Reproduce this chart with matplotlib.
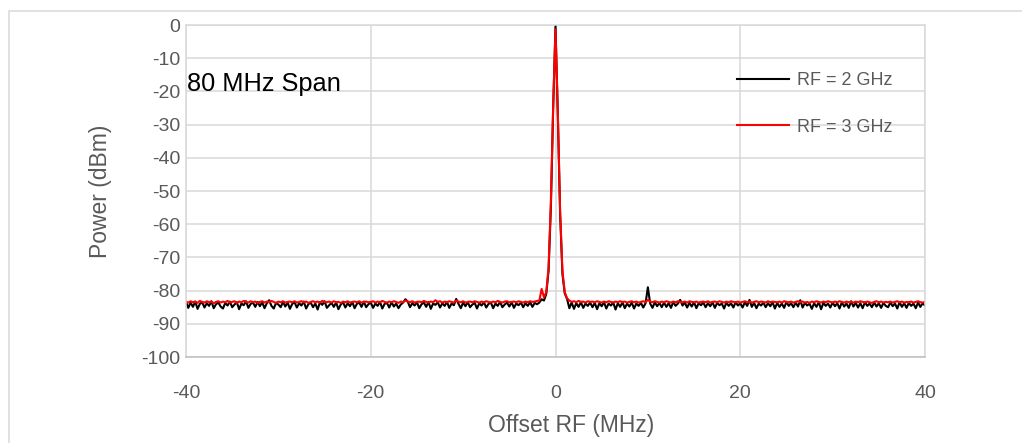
import numpy as np
import matplotlib.pyplot as plt
from matplotlib.patches import Rectangle

# spectrum trace, 0.25 MHz steps from -40 to +40 MHz (321 points)
freq_mhz = np.linspace(-40, 40, 321)

rf2_dbm = [
    -83.4, -85.2, -83.6, -84.9, -83.3, -85.5, -84.0, -83.5, -85.1, -83.8, -84.6, -83.2, -85.3, -84.1, -83.6, -84.8,
    -85.4, -83.7, -84.5, -83.3, -85.0, -84.2, -83.5, -85.6, -83.9, -84.4, -83.2, -85.2, -84.0, -83.6, -84.9, -83.4,
    -84.7, -83.5, -85.3, -83.8, -82.9, -84.6, -85.4, -83.7, -84.2, -85.0, -83.4, -84.8, -83.6, -85.5, -84.0, -83.5,
    -85.1, -83.8, -84.5, -83.3, -85.4, -84.1, -83.6, -85.0, -83.9, -85.7, -83.5, -84.3, -83.2, -85.2, -84.4, -83.7,
    -84.9, -83.6, -85.6, -84.2, -83.5, -85.1, -83.8, -84.7, -83.4, -85.3, -84.0, -83.6, -84.9, -83.3, -85.0, -84.1,
    -83.6, -85.2, -83.9, -84.6, -83.4, -85.4, -84.0, -83.7, -85.1, -83.5, -84.8, -83.9, -85.3, -84.2, -83.6, -82.6,
    -83.3, -85.0, -83.8, -84.5, -83.5, -85.3, -84.1, -83.6, -84.9, -83.4, -85.5, -83.9, -84.3, -83.5, -85.1, -83.8,
    -84.6, -83.4, -85.2, -83.9, -84.4, -82.5, -84.0, -85.3, -83.6, -84.7, -83.5, -85.0, -84.2, -83.7, -85.4, -83.8,
    -84.5, -83.5, -85.1, -84.0, -83.6, -85.3, -83.9, -84.6, -83.4, -85.0, -84.2, -83.6, -84.8, -83.5, -85.2, -83.9,
    -84.4, -83.6, -85.0, -83.8, -84.6, -83.5, -84.9, -83.7, -84.1, -83.6, -82.6, -83.0, -81.0, -74.0, -55.0, -25.0,
    -0.2, -27.0, -57.0, -75.0, -80.8, -82.5, -85.3, -83.6, -85.5, -83.8, -84.9, -83.5, -85.2, -83.9, -84.6, -83.6,
    -85.0, -83.7, -85.6, -83.8, -84.7, -83.5, -85.4, -83.9, -84.5, -83.6, -85.7, -83.8, -84.9, -83.5, -85.3, -83.9,
    -84.8, -83.6, -85.4, -83.9, -84.6, -83.7, -85.1, -83.8, -79.0, -83.9, -85.2, -83.5, -84.7, -83.7, -85.0, -83.6,
    -84.9, -83.8, -85.2, -83.4, -84.6, -83.9, -82.8, -84.5, -83.6, -85.1, -83.7, -84.8, -83.5, -85.3, -83.8, -84.4,
    -83.6, -85.0, -83.8, -84.7, -83.5, -85.2, -83.7, -84.4, -83.9, -85.4, -83.6, -84.6, -83.8, -85.1, -83.5, -84.5,
    -83.8, -85.1, -83.5, -84.6, -82.8, -84.9, -83.7, -85.3, -83.9, -84.5, -83.6, -85.0, -83.8, -84.7, -83.5, -85.4,
    -83.7, -84.9, -83.9, -85.2, -83.4, -84.6, -83.8, -85.0, -83.6, -84.8, -82.9, -85.1, -83.7, -84.5, -83.9, -85.5,
    -83.8, -84.9, -83.5, -85.6, -83.7, -84.6, -83.9, -85.1, -83.6, -84.7, -83.8, -85.4, -83.5, -84.8, -83.9, -85.2,
    -83.2, -84.8, -83.7, -85.1, -83.8, -85.3, -83.5, -84.6, -83.9, -85.0, -83.6, -84.8, -83.8, -85.2, -83.7, -84.6,
    -85.0, -83.6, -84.7, -83.9, -85.4, -83.5, -84.9, -83.8, -85.2, -83.7, -84.6, -83.9, -85.3, -83.6, -84.9, -83.8,
    -84.5,
]

rf3_dbm = [
    -83.4, -83.6, -83.2, -83.5, -83.3, -83.7, -83.1, -83.4, -83.6, -83.2, -83.5, -83.3, -83.8, -83.4, -83.2, -83.6,
    -83.3, -83.5, -83.1, -83.6, -83.4, -83.2, -83.7, -83.3, -83.5, -83.1, -83.4, -83.6, -83.2, -83.5, -83.3, -83.7,
    -83.4, -83.2, -83.6, -83.3, -83.5, -83.1, -83.4, -83.7, -83.3, -83.5, -83.2, -83.6, -83.4, -83.3, -83.5, -83.2,
    -83.6, -83.4, -83.2, -83.5, -83.3, -83.7, -83.4, -83.2, -83.5, -83.3, -83.6, -83.1, -83.4, -83.5, -83.3, -83.6,
    -83.2, -83.5, -83.4, -83.7, -83.3, -83.5, -83.2, -83.6, -83.4, -83.3, -83.5, -83.2, -83.6, -83.4, -83.3, -83.5,
    -83.4, -83.2, -83.6, -83.3, -83.5, -83.1, -83.4, -83.6, -83.3, -83.5, -83.2, -83.4, -83.7, -83.3, -83.5, -83.0,
    -83.3, -83.5, -83.2, -83.6, -83.4, -83.3, -83.5, -83.1, -83.4, -83.6, -83.3, -83.5, -82.9, -83.4, -83.2, -83.6,
    -83.3, -83.5, -83.2, -83.4, -83.6, -83.0, -83.3, -83.5, -83.2, -83.6, -83.4, -83.3, -83.5, -83.2, -83.4, -83.6,
    -83.3, -83.5, -83.2, -83.4, -83.6, -83.3, -83.5, -83.1, -83.4, -83.6, -83.3, -83.2, -83.5, -83.4, -83.3, -83.5,
    -83.2, -83.4, -83.6, -83.3, -83.5, -83.2, -83.4, -83.3, -83.1, -83.0, -79.5, -82.0, -80.5, -73.0, -53.0, -24.0,
    -1.3, -26.0, -56.0, -74.0, -80.5, -82.3, -83.0, -83.4, -83.2, -83.5, -83.1, -83.4, -83.3, -83.6, -83.2, -83.4,
    -83.3, -83.5, -83.2, -83.4, -83.6, -83.3, -83.5, -83.2, -83.4, -83.6, -83.3, -83.5, -83.2, -83.4, -83.3, -83.6,
    -83.4, -83.2, -83.5, -83.3, -83.6, -83.4, -83.2, -83.5, -82.8, -83.3, -83.5, -83.2, -83.4, -83.6, -83.3, -83.5,
    -83.2, -83.4, -83.6, -83.3, -83.5, -83.2, -83.4, -83.5, -83.3, -83.6, -83.2, -83.4, -83.5, -83.3, -83.6, -83.4,
    -83.3, -83.5, -83.2, -83.6, -83.4, -83.3, -83.5, -83.2, -83.4, -83.6, -83.3, -83.5, -83.2, -83.4, -83.5, -83.3,
    -83.6, -83.4, -83.2, -83.5, -83.3, -83.6, -83.4, -83.2, -83.5, -83.3, -83.4, -83.6, -83.2, -83.5, -83.3, -83.4,
    -83.5, -83.3, -83.6, -83.2, -83.4, -83.5, -83.3, -83.6, -83.4, -83.2, -83.5, -83.3, -83.6, -83.4, -83.7, -83.3,
    -83.5, -83.2, -83.4, -83.6, -83.3, -83.5, -83.2, -83.4, -83.6, -83.3, -83.5, -83.2, -83.4, -83.6, -83.3, -83.5,
    -83.4, -83.6, -83.3, -83.5, -83.2, -83.4, -83.6, -83.3, -83.5, -83.7, -83.4, -83.2, -83.5, -83.3, -83.6, -83.4,
    -83.5, -83.3, -83.6, -83.4, -83.2, -83.5, -83.3, -83.6, -83.4, -83.5, -83.3, -83.6, -83.4, -83.2, -83.5, -83.6,
    -83.4,
]

x_ticks = [-40, -20, 0, 20, 40]
y_ticks = list(range(-100, 1, 10))

plt.rcParams['font.family'] = ['Liberation Sans', 'DejaVu Sans']
plt.rcParams['axes.unicode_minus'] = False

W, H = 1022, 443
fig = plt.figure(figsize=(W / 100, H / 100), dpi=100)
ax = fig.add_axes([186 / W, 1 - 357 / H, 739 / W, 332 / H])

# outer chart border (Excel chart area)
fig.add_artist(Rectangle((9 / W, -0.1), 1.2, 1.1 - 11 / H, transform=fig.transFigure,
                         fill=False, edgecolor='#d9d9d9', lw=1.1))

ax.plot(freq_mhz, rf2_dbm, color='black', lw=1.5, label='RF = 2 GHz')
ax.plot(freq_mhz, rf3_dbm, color='#ff0000', lw=1.5, label='RF = 3 GHz')

ax.set_xlim(-40, 40)
ax.set_ylim(-100, 0)
ax.set_xticks(x_ticks)
ax.set_yticks(y_ticks)
ax.grid(True, color='#d9d9d9', lw=1.1)
ax.set_axisbelow(True)
for s in ax.spines.values():
    s.set_color('#d9d9d9')
    s.set_linewidth(1.1)
ax.spines['bottom'].set_color('#bfbfbf')
ax.tick_params(length=0, labelsize=14, labelcolor='#595959')
ax.tick_params(axis='x', pad=20)
ax.tick_params(axis='y', pad=4)

ax.set_xlabel('Offset RF (MHz)', fontsize=16.5, color='#595959')
ax.xaxis.set_label_coords(0.521, -0.173)
ax.set_ylabel('Power (dBm)', fontsize=16.5, color='#595959', labelpad=21)

ax.text(0.002, 0.822, '80 MHz Span', transform=ax.transAxes, fontsize=18.3,
        color='black', va='center', ha='left')

leg = ax.legend(loc='upper left', bbox_to_anchor=(0.746, 0.857), frameon=False,
                fontsize=13, labelspacing=1.62, handlelength=2.85, handletextpad=0.45,
                borderpad=0, borderaxespad=0)
for t in leg.get_texts():
    t.set_color('#595959')

fig.savefig('out.png', dpi=100)
